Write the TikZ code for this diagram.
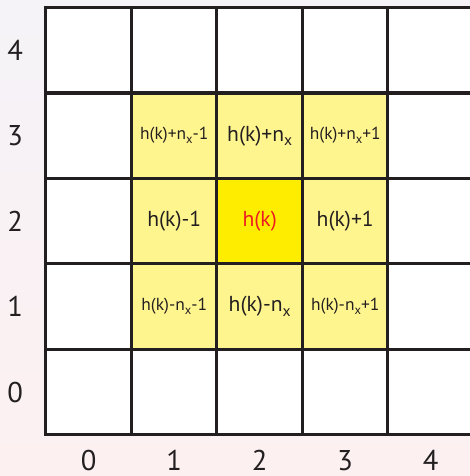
\documentclass[tikz,border=0pt]{standalone}
\usepackage{fontspec}
\setmainfont{PT Sans}
\usetikzlibrary{positioning}
\definecolor{gridline}{RGB}{35,31,32}
\definecolor{paleyellow}{RGB}{255,245,143}
\definecolor{coreyellow}{RGB}{255,237,0}
\definecolor{corered}{RGB}{237,28,36}
\definecolor{bgtop}{RGB}{245,243,248}
\definecolor{bgbottom}{RGB}{252,240,241}
\newcommand{\nx}{n\raisebox{-0.45ex}{\scalebox{0.72}{x}}}
\tikzset{
  cell/.style={rectangle,draw=gridline,line width=1pt,fill=white,minimum size=1cm,
    inner sep=0pt,text=gridline,font=\fontsize{7.2}{8}\selectfont},
  near/.style={cell,fill=paleyellow},
  core/.style={cell,fill=coreyellow,text=corered},
  tight/.style={font=\fontsize{5.8}{6}\selectfont},
  axislbl/.style={inner sep=0pt,text=gridline,font=\fontsize{9.5}{11}\selectfont}
}

\begin{document}
\begin{tikzpicture}
    % Background
    \shade[top color=bgtop,bottom color=bgbottom] (-0.538,-0.48) rectangle (4.959,5.088);
    \clip (-0.538,-0.48) rectangle (4.959,5.088);

    % Grid
    \foreach \i in {0,...,4}
      \foreach \j in {0,...,4}
        \node[cell] (c\i\j) at (\i+0.5,\j+0.5) {};

    % Neighbours
    \node[near,tight] (c13) at (1.5,3.5) {h(k)+\nx-1};
    \node[near] (c23) at (2.5,3.5) {h(k)+\nx};
    \node[near,tight] (c33) at (3.5,3.5) {h(k)+\nx+1};
    \node[near] (c12) at (1.5,2.5) {h(k)-1};
    \node[near] (c32) at (3.5,2.5) {h(k)+1};
    \node[near,tight] (c11) at (1.5,1.5) {h(k)-\nx-1};
    \node[near] (c21) at (2.5,1.5) {h(k)-\nx};
    \node[near,tight] (c31) at (3.5,1.5) {h(k)-\nx+1};

    % Centre cell
    \node[core] (c22) at (2.5,2.5) {h(k)};

    % Axis labels
    \foreach \k in {0,...,4} {
      \node[axislbl] (ylbl\k) at (-0.36,\k+0.5) {\k};
      \node[axislbl] (xlbl\k) at (\k+0.5,-0.3) {\k};
    }
\end{tikzpicture}
\end{document}
